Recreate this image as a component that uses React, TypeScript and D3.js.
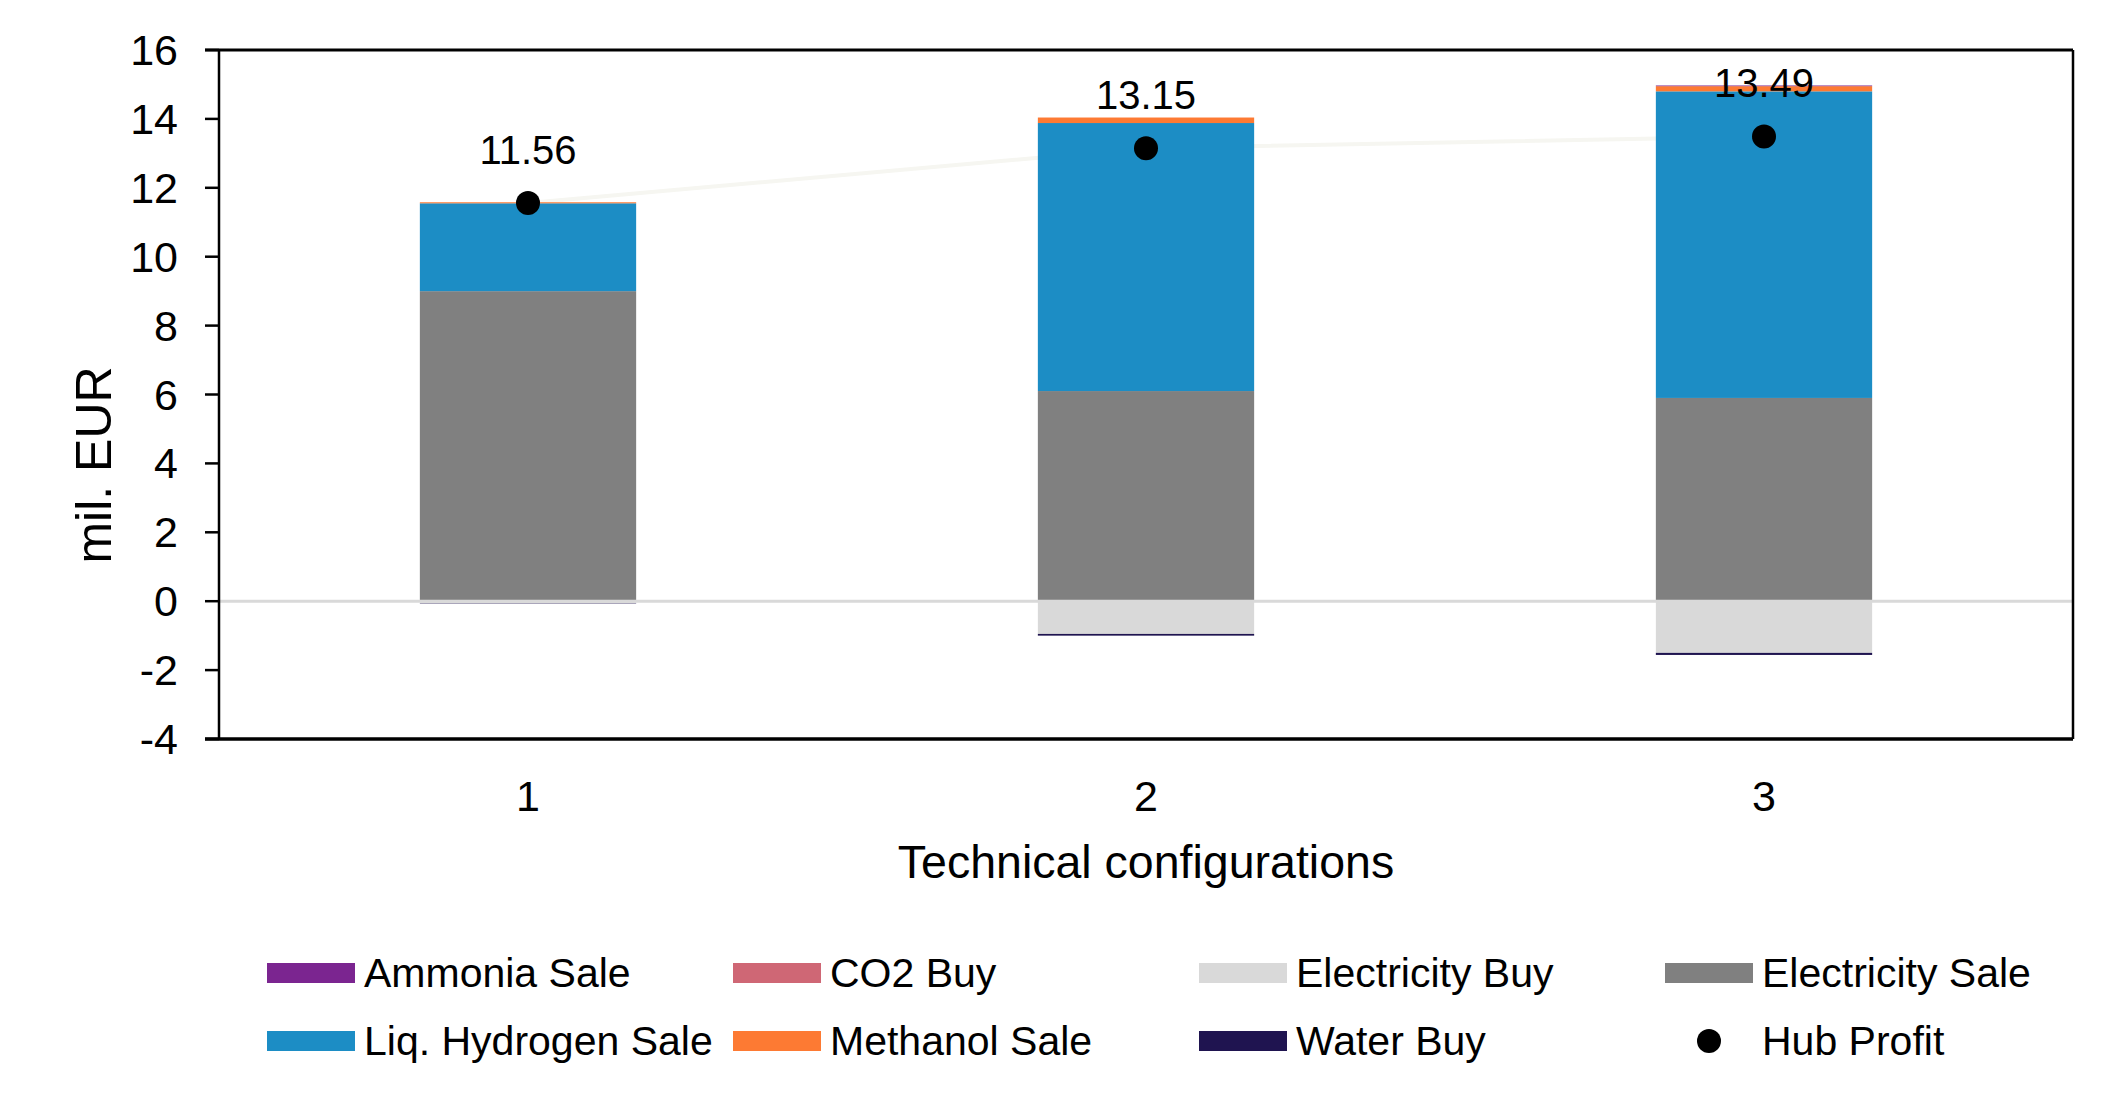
import { useEffect } from 'react';
import * as d3 from 'd3';

const categories = ['1', '2', '3'];
const ammoniaSale = [0, 0, 0.02];
const co2Buy = [0, 0, 0];
const electricityBuy = [-0.06, -0.95, -1.5];
const electricitySale = [9.0, 6.1, 5.9];
const liqHydrogenSale = [2.55, 7.78, 8.9];
const methanolSale = [0.03, 0.16, 0.15];
const waterBuy = [-0.01, -0.05, -0.06];
const hubProfit = [11.56, 13.15, 13.49];
const yTicks = [-4, -2, 0, 2, 4, 6, 8, 10, 12, 14, 16];

const seriesNames = [
  'Ammonia Sale', 'CO2 Buy', 'Electricity Buy', 'Electricity Sale',
  'Liq. Hydrogen Sale', 'Methanol Sale', 'Water Buy',
];
const seriesValues = [
  ammoniaSale, co2Buy, electricityBuy, electricitySale,
  liqHydrogenSale, methanolSale, waterBuy,
];
const colors: Record<string, string> = {
  'Ammonia Sale': '#7b2590',
  'CO2 Buy': '#cf6775',
  'Electricity Buy': '#d9d9d9',
  'Electricity Sale': '#808080',
  'Liq. Hydrogen Sale': '#1c8dc5',
  'Methanol Sale': '#fd7a33',
  'Water Buy': '#1f1450',
};
// stacking order: positives upward from zero, negatives downward
const stackOrder = [
  'Electricity Sale', 'Liq. Hydrogen Sale', 'Methanol Sale', 'Ammonia Sale',
  'Electricity Buy', 'Water Buy', 'CO2 Buy',
];

const W = 2124;
const H = 1109;
const font = '"Liberation Sans", Arial, sans-serif';

export default function App() {
  useEffect(() => {
    document.body.style.margin = '0';
  }, []);

  const left = 219;
  const right = 2073;
  const top = 50;
  const bottom = 739;

  const x = d3.scaleBand<string>()
    .domain(categories)
    .range([left, right])
    .paddingInner(0.65)
    .paddingOuter(0.325);

  const y = d3.scaleLinear().domain([-4, 16]).range([bottom, top]);

  const rows = categories.map((c, i) => {
    const row: Record<string, number | string> = { cat: c };
    seriesNames.forEach((s, j) => { row[s] = seriesValues[j][i]; });
    return row;
  });

  const stacked = d3.stack<Record<string, number | string>>()
    .keys(stackOrder)
    .value((d, k) => d[k] as number)
    .offset(d3.stackOffsetDiverging)(rows);

  const profitLine = d3.line<number>()
    .x((_, i) => (x(categories[i]) as number) + x.bandwidth() / 2)
    .y(d => y(d));

  const legendItems = [...seriesNames, 'Hub Profit'];
  const legendX = [267, 733, 1199, 1665];
  const legendY = [973, 1041];

  return (
    <svg width={W} height={H} style={{ display: 'block', background: '#fff', fontFamily: font }}>
      {/* faint profit line, behind the bars */}
      <path d={profitLine(hubProfit) || ''} fill="none" stroke="#f6f6f1" strokeWidth={4} />

      {/* bars */}
      {stacked.map(layer => (
        <g key={layer.key} fill={colors[layer.key]}>
          {layer.map((d, i) => {
            const y0 = y(Math.max(d[0], d[1]));
            const y1 = y(Math.min(d[0], d[1]));
            return (
              <rect key={i} x={x(categories[i])} y={y0}
                width={x.bandwidth()} height={Math.max(0, y1 - y0)} />
            );
          })}
        </g>
      ))}

      {/* zero line */}
      <line x1={left} x2={right} y1={y(0)} y2={y(0)} stroke="#d9d9d9" strokeWidth={3} />

      {/* frame */}
      <line x1={205} x2={right} y1={top} y2={top} stroke="#000" strokeWidth={3} />
      <line x1={right} x2={right} y1={top} y2={bottom} stroke="#000" strokeWidth={2.5} />
      <line x1={205} x2={right} y1={bottom} y2={bottom} stroke="#000" strokeWidth={3.5} />
      <line x1={left} x2={left} y1={top} y2={bottom} stroke="#000" strokeWidth={2.5} />

      {/* y axis ticks */}
      {yTicks.map(t => (
        <g key={t}>
          <line x1={205} x2={left} y1={y(t)} y2={y(t)} stroke="#000" strokeWidth={2.5} />
          <text x={178} y={y(t) + 15} textAnchor="end" fontSize={43} fill="#000">{t}</text>
        </g>
      ))}

      {/* x axis labels */}
      {categories.map(c => (
        <text key={c} x={(x(c) as number) + x.bandwidth() / 2} y={811}
          textAnchor="middle" fontSize={43} fill="#000">{c}</text>
      ))}

      <text x={(left + right) / 2} y={878} textAnchor="middle" fontSize={46.5} fill="#000">
        Technical configurations
      </text>
      <text transform="translate(111,465) rotate(-90)" textAnchor="middle" fontSize={50} fill="#000">
        mil. EUR
      </text>

      {/* profit dots and labels */}
      {hubProfit.map((p, i) => {
        const cx = (x(categories[i]) as number) + x.bandwidth() / 2;
        return (
          <g key={i}>
            <circle cx={cx} cy={y(p)} r={12} fill="#000" />
            <text x={cx} y={y(p) - 39} textAnchor="middle" fontSize={40} fill="#000">
              {p.toFixed(2)}
            </text>
          </g>
        );
      })}

      {/* legend */}
      {legendItems.map((name, i) => {
        const lx = legendX[i % 4];
        const ly = legendY[Math.floor(i / 4)];
        return (
          <g key={name}>
            {name === 'Hub Profit'
              ? <circle cx={lx + 44} cy={ly} r={12} fill="#000" />
              : <rect x={lx} y={ly - 10} width={88} height={20} fill={colors[name]} />}
            <text x={lx + 97} y={ly + 14} fontSize={41} fill="#000">{name}</text>
          </g>
        );
      })}
    </svg>
  );
}
